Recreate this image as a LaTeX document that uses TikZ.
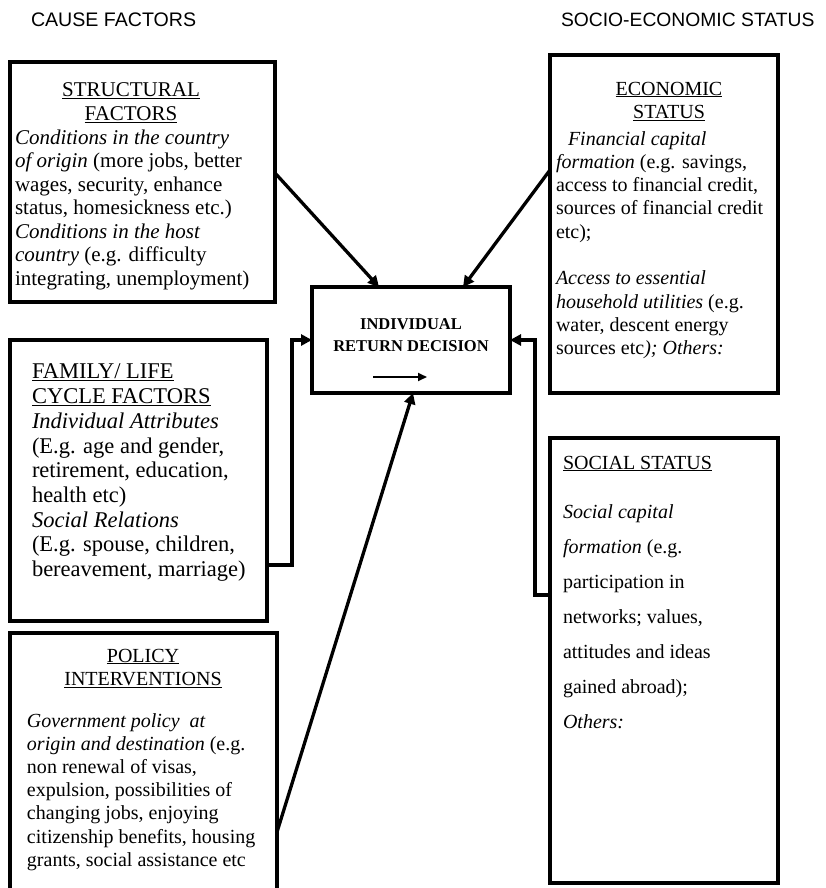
\documentclass[tikz,border=0pt]{standalone}
\usepackage{fontspec}
\setmainfont{Liberation Serif}
\newfontfamily\hdfont{Liberation Sans}
\usetikzlibrary{arrows.meta}
\tikzset{
  box/.style={draw, line width=4.2pt, rectangle, outer sep=0pt, inner sep=0pt, anchor=north west},
  txt/.style={inner sep=0pt, outer sep=0pt},
  conn/.style={line width=3.3pt, line join=miter, -{Triangle[length=11pt,width=11pt]}},
  small/.style={line width=1.8pt, -{Triangle[length=9pt,width=8pt]}}
}
\begin{document}
\begin{tikzpicture}[x=1pt,y=1pt]
\useasboundingbox (0,0) rectangle (826,-888);
\clip (0,0) rectangle (826,-888);
% headers
\node[txt, anchor=north west, font=\hdfont\fontsize{19.6pt}{22pt}\selectfont] (hcause) at (31,-11.6) {\strut CAUSE FACTORS};
\node[txt, anchor=north west, font=\hdfont\fontsize{19.3pt}{22pt}\selectfont] (hsocio) at (561,-11.6) {\strut SOCIO-ECONOMIC STATUS};
% boxes
\node[box, minimum width=265pt, minimum height=240pt] (struct) at (10,-62) {};
\node[box, minimum width=228pt, minimum height=338pt] (econ) at (550,-55) {};
\node[box, minimum width=198pt, minimum height=106pt] (ctr) at (312,-287) {};
\node[box, minimum width=257pt, minimum height=281pt] (fam) at (10,-340) {};
\node[box, minimum width=267pt, minimum height=280pt] (pol) at (10,-633) {};
\node[box, minimum width=228pt, minimum height=445pt] (soc) at (550,-438) {};
% structural text
\node[txt, anchor=north, align=center, font=\fontsize{21pt}{23.5pt}\selectfont] (structH) at (131,-80.5)
 {\strut\underline{STRUCTURAL}\\ \underline{FACTORS}};
\node[txt, anchor=north west, align=left, font=\fontsize{21pt}{23.5pt}\selectfont] (structB) at (15,-128)
 {\strut\textit{Conditions in the country}\\
  \textit{of origin} (more jobs, better\\
  wages, security, enhance\\
  status, homesickness etc.)\\
  \textit{Conditions in the host}\\
  \textit{country} (e.g. difficulty\\
  integrating, unemployment)};
% economic text
\node[txt, anchor=north, align=center, font=\fontsize{20pt}{23.3pt}\selectfont] (econH) at (669,-78.7)
 {\strut\underline{ECONOMIC}\\ \underline{STATUS}};
\node[txt, anchor=north west, align=left, font=\fontsize{20pt}{23.3pt}\selectfont] (econB) at (556,-128.7)
 {\strut\hspace*{12pt}\textit{Financial capital}\\
  \textit{formation} (e.g. savings,\\
  access to financial credit,\\
  sources of financial credit\\
  etc);\\[23.3pt]
  \textit{Access to essential}\\
  \textit{household utilities} (e.g.\\
  water, descent energy\\
  sources etc\textit{); Others:}};
% centre text
\node[txt, anchor=north, align=center, font=\bfseries\fontsize{16.5pt}{22pt}\selectfont] (ctrT) at (411,-313.6)
 {\strut INDIVIDUAL\\ RETURN DECISION};
% family text
\node[txt, anchor=north west, align=left, font=\fontsize{22.5pt}{24.7pt}\selectfont] (famT) at (32,-361.7)
 {\strut\underline{FAMILY/ LIFE}\\
  \underline{CYCLE FACTORS}\\
  \textit{Individual Attributes}\\
  (E.g. age and gender,\\
  retirement, education,\\
  health etc)\\
  \textit{Social Relations}\\
  (E.g. spouse, children,\\
  bereavement, marriage)};
% policy text
\node[txt, anchor=north, align=center, font=\fontsize{20pt}{23.2pt}\selectfont] (polH) at (143,-645.8)
 {\strut\underline{POLICY}\\ \underline{INTERVENTIONS}};
\node[txt, anchor=north west, align=left, font=\fontsize{20pt}{23.2pt}\selectfont] (polB) at (27,-710.8)
 {\strut\textit{Government policy\ \ at}\\
  \textit{origin and destination} (e.g.\\
  non renewal of visas,\\
  expulsion, possibilities of\\
  changing jobs, enjoying\\
  citizenship benefits, housing\\
  grants, social assistance etc};
% social text
\node[txt, anchor=north west, align=left, font=\fontsize{20pt}{23pt}\selectfont] (socH) at (563,-452.9)
 {\strut\underline{SOCIAL STATUS}};
\node[txt, anchor=north west, align=left, font=\fontsize{20pt}{35pt}\selectfont] (socB) at (563,-493.5)
 {\strut\textit{Social capital}\\
  \textit{formation} (e.g.\\
  participation in\\
  networks; values,\\
  attitudes and ideas\\
  gained abroad);\\
  \textit{Others:}};
% connectors
\draw[conn] ([yshift=-111pt]struct.north east) -- ([xshift=-32pt]ctr.north);
\draw[conn] ([yshift=-115pt]econ.north west) -- ([xshift=52pt]ctr.north);
\draw[conn] ([yshift=-225pt]fam.north east) -- ++(25,0) |- ([yshift=-53pt]ctr.north west);
\draw[conn] ([yshift=-157pt]soc.north west) -- ++(-15,0) |- ([yshift=-53pt]ctr.north east);
\draw[conn] ([yshift=-199pt]pol.north east) -- ([xshift=2pt]ctr.south);
\draw[small] ([xshift=-38pt,yshift=16pt]ctr.south) -- ++(54,0);
\end{tikzpicture}
\end{document}
